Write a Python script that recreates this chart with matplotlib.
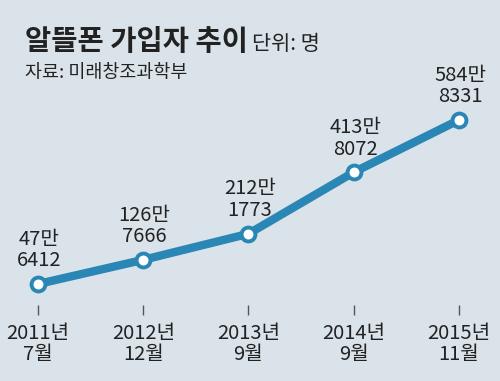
import matplotlib
matplotlib.use('Agg')
import matplotlib.pyplot as plt

plt.rcParams['font.family'] = ['Noto Sans CJK KR', 'DejaVu Sans']

periods = ['2011년\n7월', '2012년\n12월', '2013년\n9월', '2014년\n9월', '2015년\n11월']
subscribers = [476412, 1267666, 2121773, 4138072, 5848331]
labels = ['47만\n6412', '126만\n7666', '212만\n1773', '413만\n8072', '584만\n8331']

bg = '#dae3ea'
blue = '#2a86b4'
ink = '#222222'

fig = plt.figure(figsize=(5, 3.81), dpi=100, facecolor=bg)

# axes bottom sits where the tick marks start (px 305), top at highest point (px 120)
lo, hi = min(subscribers), max(subscribers)
per_px = (hi - lo) / 164.0
ymin = lo - 21 * per_px
ax = fig.add_axes([38 / 500, (381 - 305) / 381, 421 / 500, 185 / 381])
ax.set_facecolor(bg)
x = list(range(len(subscribers)))
ax.plot(x, subscribers, color=blue, lw=6, solid_capstyle='round', zorder=2, clip_on=False)
ax.plot(x, subscribers, 'o', ms=10, mfc='white', mec=blue, mew=2.8, zorder=3, clip_on=False)
ax.set_xlim(0, 4)
ax.set_ylim(ymin, hi)

for xi, yi, t in zip(x, subscribers, labels):
    ax.annotate(t, (xi, yi), xytext=(1, 9), textcoords='offset points',
                ha='center', va='bottom', fontsize=14.5, color=ink, linespacing=1.05)

for s in ax.spines.values():
    s.set_visible(False)
ax.set_yticks([])
ax.set_xticks(x)
ax.set_xticklabels(periods, fontsize=14.5, color=ink, linespacing=1.0)
ax.tick_params(axis='x', direction='out', length=7, width=1, color='#555555', pad=6)

fig.text(25 / 500, 1 - 42 / 381, '알뜰폰 가입자 추이', fontsize=20.5, fontweight='bold',
         color=ink, va='center')
fig.text(252 / 500, 1 - 44 / 381, '단위: 명', fontsize=15, color=ink, va='center')
fig.text(25 / 500, 1 - 73 / 381, '자료: 미래창조과학부', fontsize=13.3, color=ink, va='center')

fig.savefig('out.png', dpi=100, facecolor=bg)
